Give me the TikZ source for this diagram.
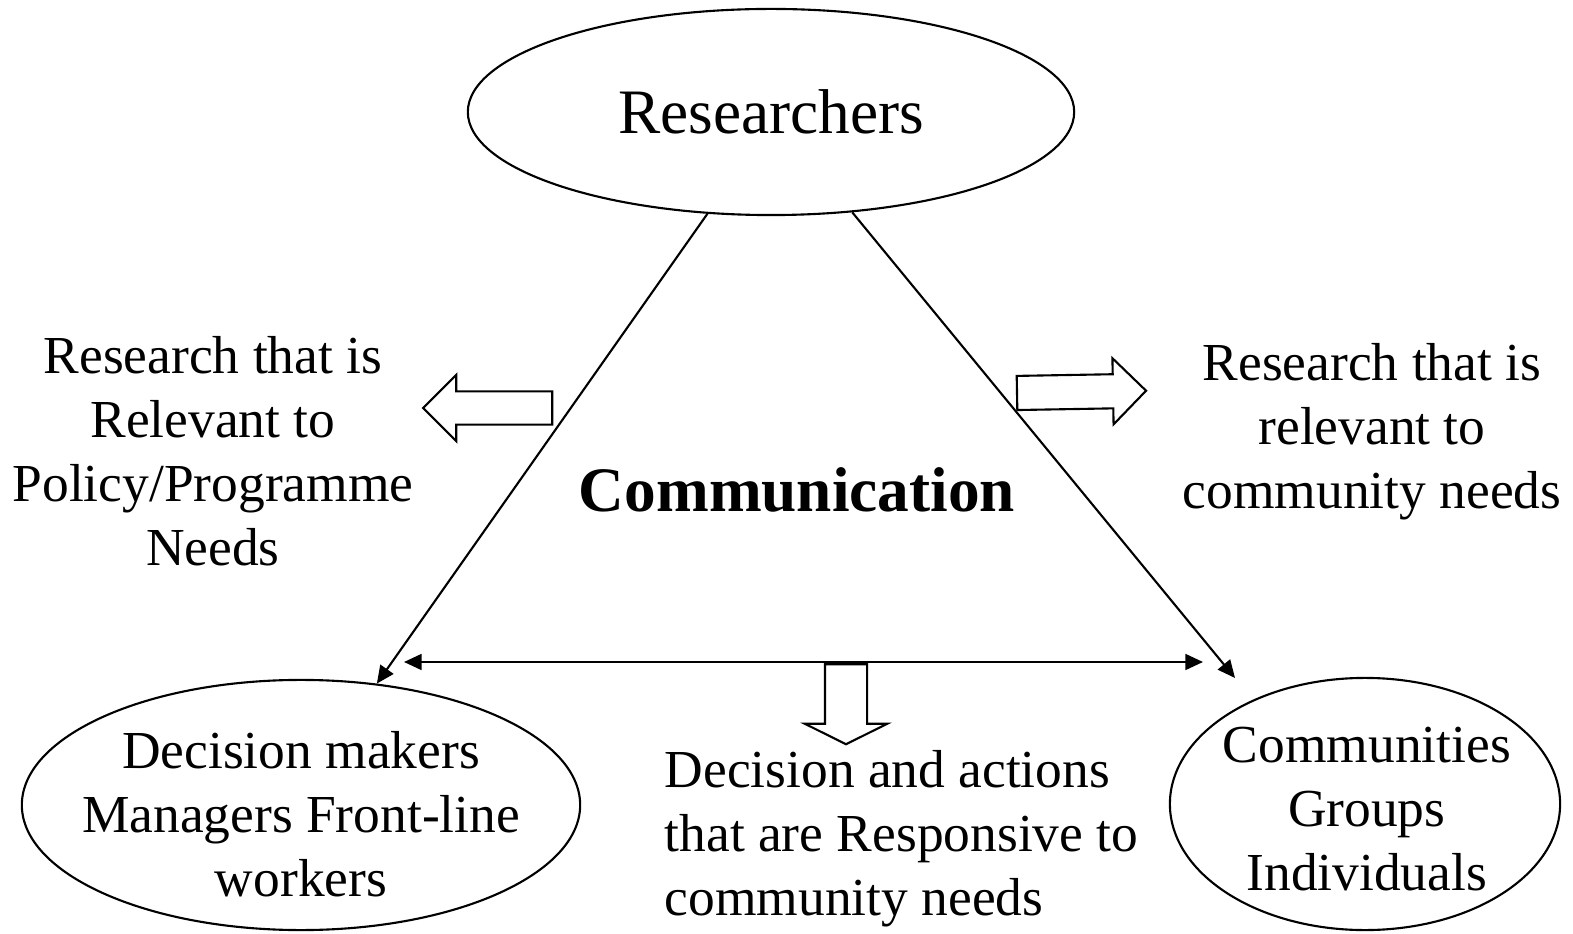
\documentclass[tikz,border=0pt]{standalone}
\usepackage{fontspec}
\setmainfont{Liberation Serif}
\usetikzlibrary{arrows.meta,shapes.geometric,shapes.arrows}
\tikzset{
  party/.style={draw, ellipse, line width=0.6pt, inner sep=0pt},
  note/.style={align=center, inner sep=0pt, font=\fontsize{15.2}{18.2}\selectfont},
  fatarrow/.style={draw, single arrow, line width=0.6pt, inner xsep=0pt, text height=0pt, text depth=0pt},
  line/.style={-{Triangle[length=5pt,width=4.5pt]}, line width=0.6pt},
  twoway/.style={{Triangle[length=5pt,width=4.5pt]}-{Triangle[length=5pt,width=4.5pt]}, line width=0.6pt}
}

\begin{document}
\begin{tikzpicture}[x=0.01cm, y=-0.01cm]
  \useasboundingbox (0,0) rectangle (1573,934);
  \node[party, minimum width=6.06cm, minimum height=2.06cm, font=\fontsize{18}{21.6}\selectfont] (res) at (771,112) {Researchers};
  \node[party, minimum width=5.58cm, minimum height=2.5cm, label={[note, yshift=-5pt*0.5]center:Decision makers\\Managers Front-line\\workers}] (dm) at (301,805) {};
  \node[party, minimum width=3.9cm, minimum height=2.52cm, label={[note, yshift=-1.5pt, xshift=0.5pt]center:Communities\\Groups\\Individuals}] (cg) at (1365,804) {};

  \node[note, font=\fontsize{18}{21.6}\selectfont\bfseries] (comm) at (797,490) {Communication};
  \node[note] (polneed) at (213,451) {Research that is\\Relevant to\\Policy/Programme\\Needs};
  \node[note] (comneed) at (1372,432) {Research that is\\relevant to\\community needs};
  \node[note, align=left, anchor=west] (resp) at (664,839) {Decision and actions\\that are Responsive to\\community needs};

  \node[fatarrow, rotate=180, minimum height=1.29cm, inner ysep=0.155cm, single arrow head extend=0.165cm] (polarrow) at (496,408) {};
  \node[fatarrow, rotate=1, minimum height=1.29cm, inner ysep=0.16cm, single arrow head extend=0.16cm] (comarrow) at (1073,392) {};
  \node[fatarrow, rotate=-90, minimum height=0.8cm, inner ysep=0.2cm, single arrow head extend=0.2cm, single arrow tip angle=127] (actarrow) at (846,699) {};

  \coordinate (hl) at (404,662);
  \coordinate (hr) at (1203,662);
  \coordinate (cgtip) at (1235,678);
  \draw[line] (res.238) -- (dm.58);
  \draw[line] (res.309) -- (cgtip);
  \draw[twoway] (hl) -- (hr);
\end{tikzpicture}
\end{document}
